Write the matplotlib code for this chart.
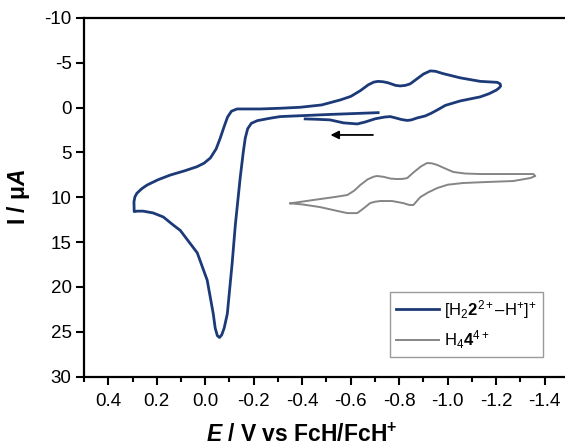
import numpy as np
import matplotlib
matplotlib.use("Agg")
import matplotlib.pyplot as plt

plt.rcParams['font.family'] = ['Liberation Sans', 'DejaVu Sans']
plt.rcParams['axes.unicode_minus'] = False
plt.rcParams['mathtext.fontset'] = 'custom'
plt.rcParams['mathtext.rm'] = 'Liberation Sans'
plt.rcParams['mathtext.it'] = 'Liberation Sans:italic:bold'
plt.rcParams['mathtext.bf'] = 'Liberation Sans:bold'

# [H2 2(2+) - H+]+ : potential (V vs FcH/FcH+) and current (uA), in scan order
navy_E = [-0.713, -0.515, -0.309, -0.268, -0.215, -0.190, -0.175, -0.165, -0.157,
          -0.144, -0.124, -0.111, -0.091, -0.078, -0.068, -0.059, -0.050, -0.041,
          -0.033, -0.008, 0.033, 0.103, 0.132, 0.173, 0.215, 0.256, 0.280, 0.293,
          0.294, 0.290, 0.282, 0.262, 0.240, 0.195, 0.144, 0.085, 0.034, 0.005,
          -0.021, -0.045, -0.062, -0.078, -0.092, -0.108, -0.131, -0.227, -0.309,
          -0.392, -0.480, -0.557, -0.600, -0.640, -0.672, -0.695, -0.713, -0.735,
          -0.755, -0.785, -0.804, -0.825, -0.845, -0.870, -0.900, -0.928, -0.950,
          -0.980, -1.052, -1.134, -1.204, -1.216, -1.218, -1.212, -1.200, -1.170,
          -1.134, -1.052, -0.990, -0.957, -0.930, -0.907, -0.874, -0.850, -0.833,
          -0.810, -0.785, -0.763, -0.740, -0.700, -0.660, -0.627, -0.570, -0.515,
          -0.460, -0.412]
navy_I = [0.56, 0.76, 1.00, 1.18, 1.45, 1.75, 2.35, 3.40, 4.92,
          7.85, 13.1, 17.35, 23.0, 24.6, 25.35, 25.65, 25.45, 24.6,
          23.0, 19.25, 16.2, 13.7, 13.1, 12.2, 11.75, 11.55, 11.55, 11.6,
          10.5, 9.95, 9.56, 9.05, 8.64, 8.05, 7.52, 7.05, 6.59, 6.20,
          5.62, 4.60, 3.39, 2.10, 1.05, 0.40, 0.15, 0.15, 0.07,
          -0.04, -0.30, -0.86, -1.25, -1.90, -2.54, -2.85, -2.93, -2.88,
          -2.76, -2.48, -2.42, -2.48, -2.65, -3.15, -3.75, -4.10, -4.05,
          -3.80, -3.32, -2.93, -2.82, -2.65, -2.40, -2.20, -1.95, -1.55,
          -1.20, -0.75, -0.25, 0.26, 0.65, 0.93, 1.15, 1.37, 1.43,
          1.33, 1.15, 1.00, 1.05, 1.25, 1.60, 1.82, 1.70, 1.37,
          1.30, 1.26]

# H4 4(4+)
gray_E = [-0.351, -0.445, -0.540, -0.586, -0.615, -0.639, -0.670, -0.695, -0.709,
          -0.735, -0.765, -0.792, -0.815, -0.833, -0.860, -0.890, -0.915, -0.935,
          -0.957, -0.990, -1.023, -1.070, -1.134, -1.250, -1.353, -1.361, -1.340,
          -1.270, -1.160, -1.064, -1.000, -0.957, -0.920, -0.887, -0.870, -0.858,
          -0.840, -0.816, -0.770, -0.722, -0.700, -0.680, -0.655, -0.627, -0.586,
          -0.540, -0.474, -0.400, -0.351]
gray_I = [10.68, 10.31, 9.95, 9.75, 9.25, 8.64, 8.00, 7.70, 7.63,
          7.72, 7.92, 7.97, 7.95, 7.86, 7.20, 6.55, 6.18, 6.22,
          6.40, 6.80, 7.18, 7.35, 7.41, 7.41, 7.41, 7.63, 7.86,
          8.19, 8.30, 8.41, 8.60, 8.97, 9.45, 9.98, 10.50, 10.87,
          10.85, 10.65, 10.42, 10.42, 10.50, 10.65, 11.20, 11.77, 11.77,
          11.50, 11.10, 10.80, 10.68]

navy_label = r'[H$_2\mathbf{2}^{2+}$–H$^{+}$]$^{+}$'
gray_label = r'H$_4\mathbf{4}^{4+}$'

xticks = [0.4, 0.2, 0.0, -0.2, -0.4, -0.6, -0.8, -1.0, -1.2, -1.4]
yticks = [-10, -5, 0, 5, 10, 15, 20, 25, 30]

fig = plt.figure(figsize=(5.65, 4.47), dpi=100)
ax = fig.add_axes([84 / 565, 70.5 / 447, 485 / 565, 358.5 / 447])

ax.plot(navy_E, navy_I, color='#1d3a78', lw=2.0, label=navy_label,
        solid_joinstyle='round')
ax.plot(gray_E, gray_I, color='#858585', lw=1.4, label=gray_label,
        solid_joinstyle='round')

ax.annotate('', xy=(-0.505, 3.05), xytext=(-0.703, 3.05),
            arrowprops=dict(arrowstyle='-|>', color='black', lw=1.3,
                            mutation_scale=12))

ax.set_xlim(0.5, -1.5)
ax.set_ylim(30, -10)
ax.set_xticks(xticks)
ax.set_xticklabels(['%.1f' % v for v in xticks])
ax.set_xticks(np.arange(0.5, -1.55, -0.1), minor=True)
ax.set_yticks(yticks)
ax.set_yticklabels([str(v) for v in yticks])

for s in ['left', 'bottom', 'top', 'right']:
    ax.spines[s].set_linewidth(1.6)
ax.tick_params(axis='both', which='major', direction='out', length=6, width=1.5,
               labelsize=13.5, top=False, right=False)
ax.tick_params(axis='x', which='minor', direction='out', length=3.5, width=1.5,
               top=False)
ax.tick_params(axis='x', pad=6)
ax.tick_params(axis='y', pad=3)

ax.set_xlabel(r'$\mathit{E}$ / V vs FcH/FcH$^{\mathbf{+}}$', fontsize=16.5,
              fontweight='bold')
ax.xaxis.set_label_coords(0.449, -0.13)
ax.set_ylabel(r'I / μ$\mathit{A}$', fontsize=16.5, fontweight='bold')
ax.yaxis.set_label_coords(-0.107, 0.5)

leg = ax.legend(loc='upper left', bbox_to_anchor=(0.631, 0.236), fontsize=12,
                frameon=True, fancybox=False, edgecolor='#9a9a9a',
                framealpha=1, handlelength=2.6, handletextpad=0.3,
                borderpad=0.35, labelspacing=0.45, borderaxespad=0)
leg.get_frame().set_linewidth(1.0)

fig.savefig('out.png', dpi=100)
